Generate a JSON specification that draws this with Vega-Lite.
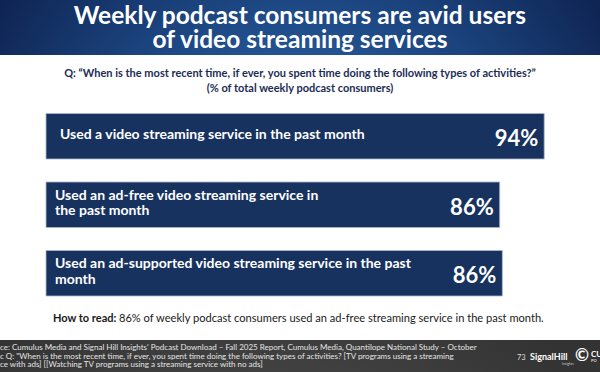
{
  "$schema": "https://vega.github.io/schema/vega-lite/v6.json",
  "padding": 0,
  "spacing": 0,
  "bounds": "flush",
  "background": "white",
  "config": {"view": {"stroke": null}, "concat": {"spacing": 0}, "font": "Lato"},
  "vconcat": [
    {
      "width": 600,
      "height": 55,
      "data": {"values": [{}]},
      "layer": [
        {
          "mark": {"type": "rect", "fillOpacity": 1, "fill": {"gradient": "radial", "x1": 0.5, "y1": 0.8, "r1": 0, "x2": 0.5, "y2": 0.8, "r2": 0.65, "stops": [{"offset": 0, "color": "#3777b8"}, {"offset": 0.5, "color": "#1e4a87"}, {"offset": 1, "color": "#0c1e4a"}]}},
          "encoding": {}
        },
        {
          "mark": {"type": "text", "text": "Weekly podcast consumers are avid users\nof video streaming services", "lineBreak": "\n", "lineHeight": 24, "fontSize": 24.5, "fontWeight": "bold", "color": "white", "align": "center", "baseline": "middle", "dy": -10.5},
          "encoding": {}
        }
      ]
    },
    {
      "width": 600,
      "height": 46.5,
      "data": {"values": [{}]},
      "mark": {"type": "text", "text": "Q: \u201cWhen is the most recent time, if ever, you spent time doing the following types of activities?\u201d\n(% of total weekly podcast consumers)", "lineBreak": "\n", "lineHeight": 15, "fontSize": 11, "fontWeight": "bold", "color": "#1c2d55", "align": "center", "baseline": "middle", "dy": -4.25},
      "encoding": {}
    },
    {
      "width": 600,
      "height": 205.5,
      "data": {"values": [
        {"activity": "Used a video streaming service in the past month", "share": 0.94},
        {"activity": "Used an ad-free video streaming service in\nthe past month", "share": 0.856},
        {"activity": "Used an ad-supported video streaming service in the past\nmonth", "share": 0.861}
      ]},
      "encoding": {
        "y": {"field": "activity", "type": "nominal", "sort": null, "axis": null, "scale": {"paddingInner": 0.336, "paddingOuter": 0.168}}
      },
      "layer": [
        {
          "mark": {"type": "bar", "color": "#17325e", "stroke": "#a9b6cb", "strokeWidth": 0.8},
          "encoding": {"x": {"field": "share", "type": "quantitative", "axis": null, "scale": {"domain": [0, 1], "range": [46, 576], "nice": false}}}
        },
        {
          "transform": [{"filter": "indexof(datum.activity, '\\n') < 0"}],
          "mark": {"type": "text", "align": "left", "baseline": "middle", "dx": 14, "dy": -1.5, "color": "white", "fontWeight": "bold", "fontSize": 14},
          "encoding": {"x": {"datum": 0, "type": "quantitative"}, "text": {"field": "activity"}}
        },
        {
          "transform": [{"filter": "indexof(datum.activity, '\\n') >= 0"}],
          "mark": {"type": "text", "align": "left", "baseline": "middle", "dx": 9, "dy": -9, "color": "white", "fontWeight": "bold", "fontSize": 14, "lineBreak": "\n", "lineHeight": 15.5},
          "encoding": {"x": {"datum": 0, "type": "quantitative"}, "text": {"field": "activity"}}
        },
        {
          "mark": {"type": "text", "align": "right", "baseline": "middle", "dx": -6, "dy": 3, "color": "white", "fontWeight": "bold", "fontSize": 22},
          "encoding": {"x": {"field": "share", "type": "quantitative"}, "text": {"field": "share", "format": ".0%"}}
        }
      ]
    },
    {
      "width": 600,
      "height": 32,
      "data": {"values": [{}]},
      "layer": [
        {
          "mark": {"type": "text", "text": "How to read:", "align": "left", "baseline": "middle", "dx": -247, "dy": -5.5, "fontSize": 11, "fontWeight": "bold", "color": "#1a1a1a"},
          "encoding": {}
        },
        {
          "mark": {"type": "text", "text": "86% of weekly podcast consumers used an ad-free streaming service in the past month.", "align": "left", "baseline": "middle", "dx": -181, "dy": -5.5, "fontSize": 11.1, "color": "#1a1a1a"},
          "encoding": {}
        }
      ]
    },
    {
      "width": 600,
      "height": 33,
      "data": {"values": [{}]},
      "layer": [
        {
          "mark": {"type": "rect", "fillOpacity": 1, "fill": {"gradient": "radial", "x1": 0.45, "y1": 1, "r1": 0, "x2": 0.45, "y2": 1, "r2": 0.7, "stops": [{"offset": 0, "color": "#666666"}, {"offset": 0.6, "color": "#444444"}, {"offset": 1, "color": "#333333"}]}},
          "encoding": {}
        },
        {
          "mark": {"type": "text", "text": "ce: Cumulus Media and Signal Hill Insights' Podcast Download \u2013 Fall 2025 Report, Cumulus Media, Quantilope National Study \u2013 October\nc Q:  \"When is the most recent time, if ever, you spent time doing the following types of activities? [TV programs using a streaming\nce with ads] [[Watching TV programs using a streaming service with no ads]", "lineBreak": "\n", "lineHeight": 8.4, "align": "left", "baseline": "middle", "dx": -300, "dy": -8.3, "fontSize": 8, "color": "#e6e6e6"},
          "encoding": {}
        },
        {
          "mark": {"type": "text", "text": "73", "align": "left", "baseline": "middle", "dx": 217, "dy": 1, "fontSize": 7.5, "color": "#dddddd"},
          "encoding": {}
        },
        {
          "mark": {"type": "text", "text": "SignalHill", "align": "left", "baseline": "middle", "dx": 230, "dy": 0, "fontSize": 9, "fontWeight": "bold", "color": "white"},
          "encoding": {}
        },
        {
          "mark": {"type": "text", "text": "Insights", "align": "left", "baseline": "middle", "dx": 262, "dy": 7, "fontSize": 3.5, "color": "#cccccc"},
          "encoding": {}
        },
        {
          "mark": {"type": "text", "text": "\u00a9", "align": "center", "baseline": "middle", "dx": 282, "dy": -1, "fontSize": 17, "fontWeight": "bold", "color": "white"},
          "encoding": {}
        },
        {
          "mark": {"type": "text", "text": "CU", "align": "left", "baseline": "middle", "dx": 291, "dy": -2, "fontSize": 8, "fontWeight": "bold", "color": "white"},
          "encoding": {}
        },
        {
          "mark": {"type": "text", "text": "PO", "align": "left", "baseline": "middle", "dx": 291, "dy": 4, "fontSize": 4, "fontWeight": "bold", "color": "#dddddd"},
          "encoding": {}
        }
      ]
    }
  ]
}
